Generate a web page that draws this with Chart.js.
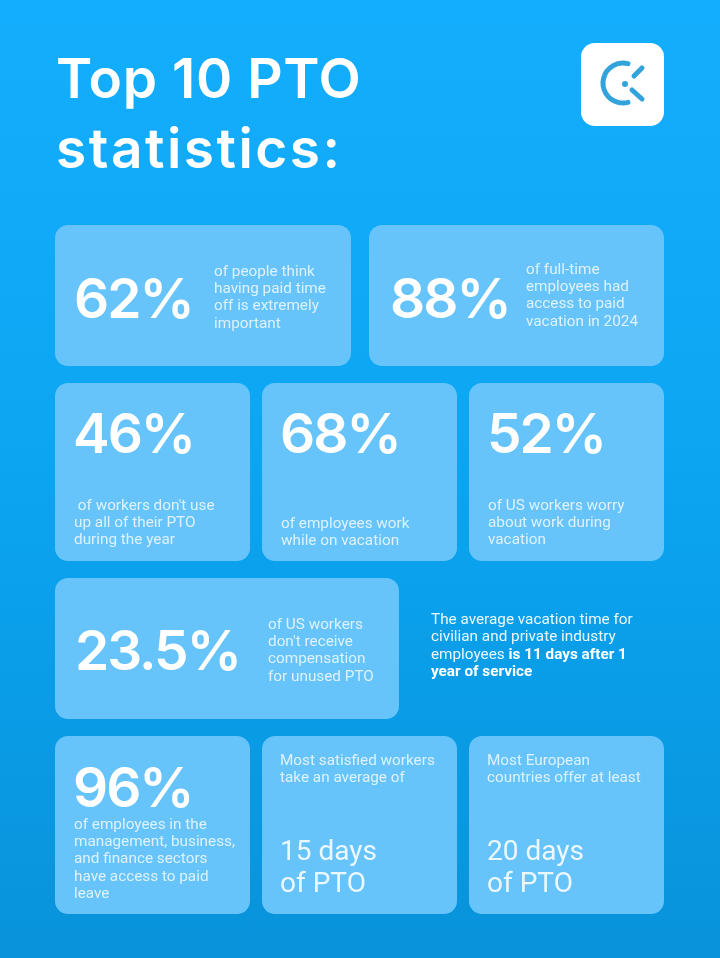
<!DOCTYPE html>
<html>
<head>
<meta charset="utf-8">
<title>Top 10 PTO statistics</title>
<script src="https://cdn.jsdelivr.net/npm/chart.js@4/dist/chart.umd.min.js"></script>
<style>
    html, body { margin: 0; padding: 0; }
    body { width: 720px; height: 958px; overflow: hidden; background: linear-gradient(180deg, #14aefe 0%, #0ca6f3 45%, #0893da 100%); }
    #wrap { position: relative; width: 720px; height: 958px; }
</style>
</head>
<body>
<div id="wrap"><canvas id="ptoChart"></canvas></div>
<script>
// values
const titleLines = ['Top 10 PTO', 'statistics:'];
const statValues = [62, 88, 46, 68, 52, 23.5, 96];
const statNotes = [
    ['of people think', 'having paid time', 'off is extremely', 'important'],
    ['of full-time', 'employees had', 'access to paid', 'vacation in 2024'],
    [" of workers don't use", 'up all of their PTO', 'during the year'],
    ['of employees work', 'while on vacation'],
    ['of US workers worry', 'about work during', 'vacation'],
    ['of US workers', "don't receive", 'compensation', 'for unused PTO'],
    ['of employees in the', 'management, business,', 'and finance sectors', 'have access to paid', 'leave']
];
const dayValues = [15, 20];
const dayNotes = [
    ['Most satisfied workers', 'take an average of'],
    ['Most European', 'countries offer at least']
];
const calloutPlain = ['The average vacation time for', 'civilian and private industry', 'employees '];
const calloutBold = ['is 11 days after 1', 'year of service'];

// page layout, separate from the values
const titleSpacing = ['0.6px', '2.5px'];
const statCards = [
    { x: 55, y: 225, w: 296, h: 141, numX: 74, numY: 318, noteX: 214, noteY: 275.5 },
    { x: 369, y: 225, w: 295, h: 141, numX: 390, numY: 318, noteX: 526, noteY: 273.5 },
    { x: 55, y: 383, w: 195, h: 178, numX: 73, numY: 453, noteX: 74, noteY: 509.5 },
    { x: 262, y: 383, w: 195, h: 178, numX: 280, numY: 453, noteX: 281, noteY: 527.5 },
    { x: 469, y: 383, w: 195, h: 178, numX: 487, numY: 453, noteX: 488, noteY: 509.5 },
    { x: 55, y: 578, w: 344, h: 141, numX: 75, numY: 670, noteX: 268, noteY: 628.5 },
    { x: 55, y: 736, w: 195, h: 178, numX: 73, numY: 807, noteX: 74, noteY: 828.5 }
];
const dayCards = [
    { x: 262, y: 736, w: 195, h: 178, textX: 280, noteY: 764.5, dayY: 860 },
    { x: 469, y: 736, w: 195, h: 178, textX: 487, noteY: 764.5, dayY: 860 }
];
const CARD_COLOR = '#66c4fb';
const NOTE_COLOR = 'rgba(255,255,255,0.78)';
const NOTE_FONT = '400 15.3px Roboto';
const NOTE_LINE = 17.4;
const NUM_FONT = '600 55px Inter';

function fillCard(ctx, c) {
    ctx.fillStyle = CARD_COLOR;
    ctx.beginPath();
    ctx.roundRect(c.x, c.y, c.w, c.h, 13);
    ctx.fill();
}

function drawLines(ctx, lines, x, y) {
    lines.forEach((line, i) => ctx.fillText(line, x, y + i * NOTE_LINE));
}

function drawLogo(ctx) {
    ctx.fillStyle = '#ffffff';
    ctx.beginPath();
    ctx.roundRect(581, 43, 83, 83, 14);
    ctx.fill();
    ctx.strokeStyle = '#33a3dc';
    ctx.fillStyle = '#33a3dc';
    ctx.lineWidth = 5;
    ctx.lineCap = 'round';
    ctx.beginPath();
    ctx.arc(623, 83, 20, -Math.PI * 0.42, Math.PI * 0.42, true);
    ctx.stroke();
    ctx.beginPath();
    ctx.moveTo(634, 76);
    ctx.lineTo(642, 68);
    ctx.moveTo(632, 90);
    ctx.lineTo(642, 99);
    ctx.stroke();
    ctx.beginPath();
    ctx.arc(625, 84, 3, 0, Math.PI * 2);
    ctx.fill();
}

const infographic = {
    id: 'infographic',
    afterDatasetsDraw(chart) {
        const ctx = chart.ctx;
        const values = chart.data.datasets[0].data;
        ctx.save();
        ctx.textBaseline = 'alphabetic';
        ctx.textAlign = 'left';

        // heading
        ctx.fillStyle = '#ffffff';
        ctx.font = '600 55px Inter';
        titleLines.forEach((line, i) => {
            ctx.letterSpacing = titleSpacing[i];
            ctx.fillText(line, 56, 98 + i * 70);
        });
        ctx.letterSpacing = '0px';

        drawLogo(ctx);
        statCards.forEach(c => fillCard(ctx, c));
        dayCards.forEach(c => fillCard(ctx, c));

        // big percentages
        statCards.forEach((c, i) => {
            ctx.fillStyle = '#ffffff';
            ctx.font = NUM_FONT;
            ctx.letterSpacing = '-2px';
            ctx.fillText(values[i] + '%', c.numX, c.numY);
            ctx.letterSpacing = '0px';
            ctx.fillStyle = NOTE_COLOR;
            ctx.font = NOTE_FONT;
            drawLines(ctx, statNotes[i], c.noteX, c.noteY);
        });

        // days cards
        dayCards.forEach((c, i) => {
            ctx.fillStyle = NOTE_COLOR;
            ctx.font = NOTE_FONT;
            drawLines(ctx, dayNotes[i], c.textX, c.noteY);
            ctx.font = '400 28px Roboto';
            ctx.fillStyle = 'rgba(255,255,255,0.88)';
            ctx.fillText(dayValues[i] + ' days', c.textX, c.dayY);
            ctx.fillText('of PTO', c.textX, c.dayY + 32);
        });

        // text without a card
        ctx.fillStyle = 'rgba(255,255,255,0.92)';
        ctx.font = NOTE_FONT;
        drawLines(ctx, calloutPlain, 431, 624);
        const lead = ctx.measureText(calloutPlain[2]).width;
        ctx.font = '700 15.3px Roboto';
        ctx.fillStyle = '#ffffff';
        ctx.fillText(calloutBold[0], 431 + lead, 624 + 2 * NOTE_LINE);
        ctx.fillText(calloutBold[1], 431, 624 + 3 * NOTE_LINE);
        ctx.restore();
    }
};

new Chart(document.getElementById('ptoChart'), {
    type: 'bar',
    data: {
        labels: statNotes.map(n => n.join(' ').trim()),
        datasets: [{ label: 'Share', data: statValues, backgroundColor: 'transparent' }]
    },
    options: {
        responsive: true,
        maintainAspectRatio: false,
        animation: false,
        scales: { x: { display: false }, y: { display: false, beginAtZero: true } },
        plugins: {
            legend: { display: false },
            tooltip: { enabled: false }
        }
    },
    plugins: [infographic]
});
</script>
</body>
</html>
